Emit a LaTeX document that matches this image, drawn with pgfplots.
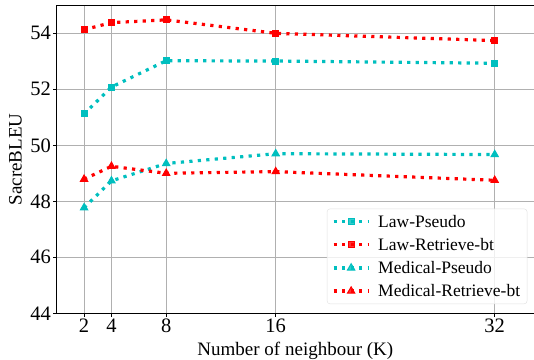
\documentclass[border=0pt]{standalone}
\usepackage{fontspec}
\setmainfont{Liberation Serif}
\usepackage{pgfplots}
\pgfplotsset{compat=1.18}
\definecolor{mc}{rgb}{0,0.75,0.75}
\definecolor{mr}{rgb}{1,0,0}
\definecolor{gridc}{rgb}{0.69,0.69,0.69}
\begin{document}
\begin{tikzpicture}
\begin{axis}[
  scale only axis,
  width=477.3bp, height=308bp,
  xmin=0, xmax=34.87, ymin=44, ymax=55,
  xtick={2,4,8,16,32}, ytick={44,46,48,50,52,54},
  axis x line=box, axis y line=left,
  axis line style={-, black, line width=1bp},
  grid=major,
  major grid style={gridc, line width=1bp},
  tick align=outside, tick pos=left,
  major tick length=3.5bp,
  tick style={black, line width=0.8bp},
  /pgf/number format/assume math mode=true,
  xticklabel={\pgfmathprintnumber{\tick}},
  yticklabel={\pgfmathprintnumber{\tick}},
  tick label style={font=\rmfamily\fontsize{20.5bp}{24bp}\selectfont},
  xticklabel style={inner sep=2bp},
  yticklabel style={inner sep=2bp},
  label style={font=\rmfamily\fontsize{19bp}{22bp}\selectfont},
  xlabel={Number of neighbour (K)},
  ylabel={SacreBLEU},
  xlabel style={at={(axis description cs:0.5,0)}, anchor=base, yshift=-41.7bp},
  ylabel style={at={(axis description cs:-0.0733,0.5)}, anchor=base},
  every axis plot/.append style={line width=3.2bp, dash pattern=on 3.2bp off 5.3bp, mark options={solid, line width=1bp}},
  legend style={at={(axis description cs:0.986,0.030)}, anchor=south east,
    draw=gray!25, rounded corners=3bp, fill=white, fill opacity=0.8, text opacity=1,
    font=\rmfamily\fontsize{17.5bp}{21bp}\selectfont, inner xsep=5bp, inner ysep=4bp,
    row sep=5.5bp, column sep=6bp},
  legend cell align=left,
  legend image code/.code={\draw[mark repeat=2,mark phase=2] plot coordinates {(0bp,0bp) (17.5bp,0bp) (35bp,0bp)};},
]
\coordinate (O) at (rel axis cs:0,0);
\addplot[color=mc, mark=square*, mark size=3bp] coordinates {(2,51.12) (4,52.08) (8,53.02) (16,53.01) (32,52.93)};
\addlegendentry{Law-Pseudo}
\addplot[color=mr, mark=square*, mark size=3bp] coordinates {(2,54.13) (4,54.38) (8,54.48) (16,54.00) (32,53.74)};
\addlegendentry{Law-Retrieve-bt}
\addplot[color=mc, mark=triangle*, mark size=4.2bp] coordinates {(2,47.77) (4,48.73) (8,49.35) (16,49.70) (32,49.67)};
\addlegendentry{Medical-Pseudo}
\addplot[color=mr, mark=triangle*, mark size=4.2bp] coordinates {(2,48.79) (4,49.25) (8,49.00) (16,49.06) (32,48.75)};
\addlegendentry{Medical-Retrieve-bt}
\end{axis}
\pgfresetboundingbox
\path (O) ++(-56.7bp,-46.7bp) rectangle ++(534bp,360bp);
\end{tikzpicture}
\end{document}
